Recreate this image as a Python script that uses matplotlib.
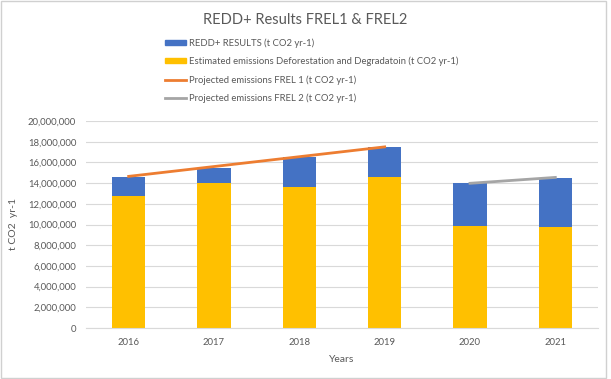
import matplotlib.pyplot as plt
from matplotlib.patches import Patch, Rectangle
from matplotlib.lines import Line2D
from matplotlib.ticker import FuncFormatter
import numpy as np

years = ["2016", "2017", "2018", "2019", "2020", "2021"]
estimated = [12750000, 14030000, 13620000, 14560000, 9880000, 9740000]
redd_results = [1850000, 1460000, 2870000, 2910000, 4100000, 4800000]
frel1_years = ["2016", "2017", "2018", "2019"]
frel1 = [14650000, 15600000, 16550000, 17500000]
frel2_years = ["2020", "2021"]
frel2 = [13980000, 14550000]

plt.rcParams['font.family'] = ['Lato', 'DejaVu Sans']
grey_txt = '#595959'

fig = plt.figure(figsize=(6.11, 3.79), dpi=100)
ax = fig.add_axes([86/611, 1-328/379, 512/611, 207/379])

x = np.arange(len(years))
pos = {y: i for i, y in enumerate(years)}
ax.bar(x, estimated, width=0.39, color='#ffc000', zorder=2)
ax.bar(x, redd_results, width=0.39, bottom=estimated, color='#4472c4', zorder=2)
ax.plot([pos[y] for y in frel1_years], frel1, color='#ed7d31', lw=2, zorder=3)
ax.plot([pos[y] for y in frel2_years], frel2, color='#a5a5a5', lw=2, zorder=3)

ax.set_xlim(-0.5, len(years) - 0.5)
ax.set_ylim(0, 20000000)
ax.set_yticks(np.arange(0, 20000001, 2000000))
ax.yaxis.set_major_formatter(FuncFormatter(lambda v, p: f"{int(v):,}"))
ax.set_xticks(x)
ax.set_xticklabels(years)
ax.grid(axis='y', color='#d9d9d9', lw=0.8, zorder=0)
for s in ['top', 'right', 'left']:
    ax.spines[s].set_visible(False)
ax.spines['bottom'].set_color('#d9d9d9')
ax.tick_params(length=0, labelsize=6.8, colors=grey_txt, pad=7)
ax.set_xlabel("Years", fontsize=7.5, color=grey_txt, labelpad=6)
ax.set_ylabel("t CO2  yr-1", fontsize=7.5, color=grey_txt, labelpad=7)

fig.text(305/611, 1-20/379, "REDD+ Results FREL1 & FREL2", fontsize=10.5,
         color=grey_txt, ha='center', va='center')

handles = [Patch(color='#4472c4'), Patch(color='#ffc000'),
           Line2D([], [], color='#ed7d31', lw=2),
           Line2D([], [], color='#a5a5a5', lw=2)]
labels = ["REDD+ RESULTS (t CO2 yr-1)",
          "Estimated emissions Deforestation and Degradatoin (t CO2 yr-1)",
          "Projected emissions FREL 1 (t CO2 yr-1)",
          "Projected emissions FREL 2 (t CO2 yr-1)"]
leg = fig.legend(handles, labels, loc='upper left', bbox_to_anchor=(165/611, 1-38/379),
                 frameon=False, fontsize=6.8, labelspacing=0.95, handlelength=2.2,
                 handleheight=0.45, handletextpad=0.35, borderpad=0, borderaxespad=0)
for t in leg.get_texts():
    t.set_color(grey_txt)

fig.patches.append(Rectangle((0.002, 0.003), 0.99, 0.994, transform=fig.transFigure,
                             fill=False, edgecolor='#d0d0d0', lw=1))

fig.savefig("out.png", dpi=100)
